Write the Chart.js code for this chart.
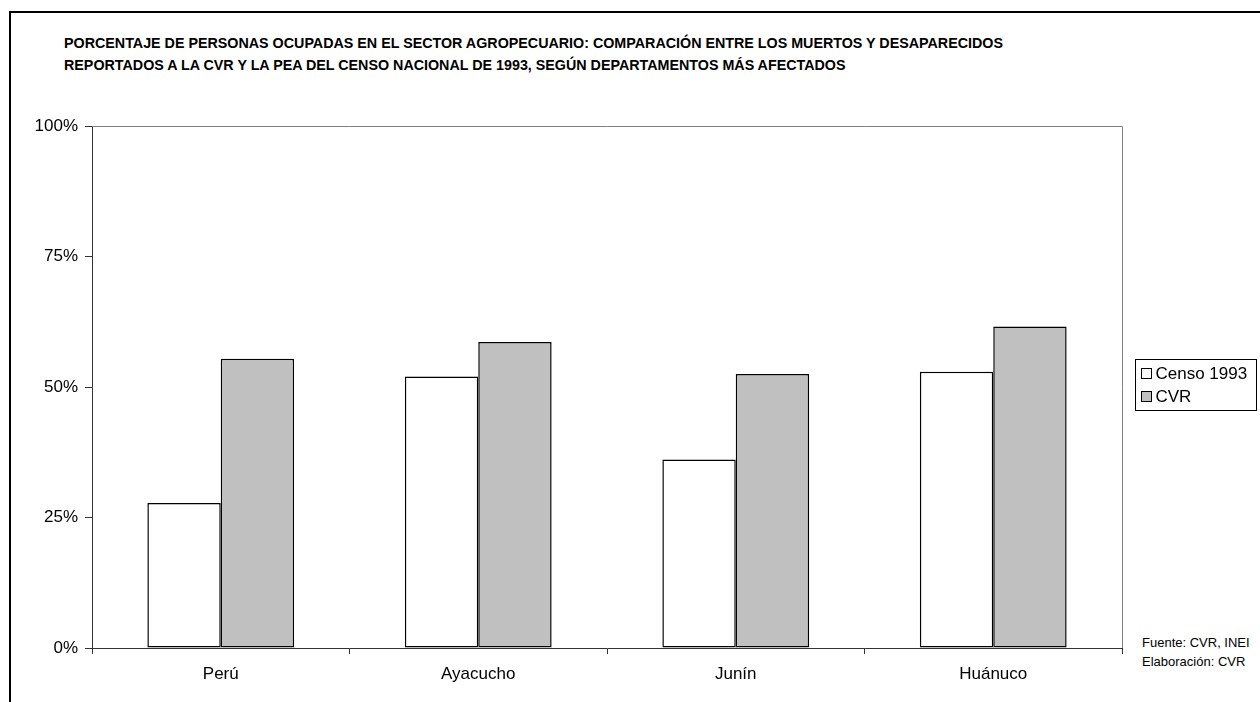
<!DOCTYPE html>
<html>
<head>
<meta charset="utf-8">
<script src="https://cdn.jsdelivr.net/npm/chart.js@4"></script>
<style>
  html, body { margin: 0; padding: 0; background: #fff; overflow: hidden; }
  body { width: 1260px; height: 702px; position: relative; }
  #frame { position: absolute; left: 9px; top: 11px; width: 1400px; height: 800px;
           border-left: 2px solid #000; border-top: 2px solid #000; }
  #title { position: absolute; left: 64px; top: 32px; font-family: "Liberation Sans", Arial, sans-serif;
           font-weight: bold; font-size: 15px; line-height: 22px; color: #000; white-space: nowrap; }
  #title span { display: inline-block; transform-origin: 0 50%; }
  #source { position: absolute; left: 1142px; top: 633px; font-family: "Liberation Sans", Arial, sans-serif;
            font-size: 13px; line-height: 19px; color: #000; white-space: nowrap; }
  canvas { position: absolute; left: 0; top: 0; }
</style>
</head>
<body>
<div id="frame"></div>
<div id="title"><span>PORCENTAJE DE PERSONAS OCUPADAS EN EL SECTOR AGROPECUARIO: COMPARACIÓN ENTRE LOS MUERTOS Y DESAPARECIDOS</span><br><span>REPORTADOS A LA CVR Y LA PEA DEL CENSO NACIONAL DE 1993, SEGÚN DEPARTAMENTOS MÁS AFECTADOS</span></div>
<div id="source">Fuente: CVR, INEI<br>Elaboración: CVR</div>
<canvas id="chart" width="1260" height="702"></canvas>
<script>
// Datos del gráfico
const departamentos = ['Perú', 'Ayacucho', 'Junín', 'Huánuco'];
const censo1993 = [27.8, 52.0, 36.1, 52.9];
const cvr = [55.4, 58.6, 52.5, 61.6];
const yTicks = [0, 25, 50, 75, 100];
const seriesNames = ['Censo 1993', 'CVR'];
const seriesColors = ['#ffffff', '#c0c0c0'];

const FONT = '"Liberation Sans", Arial, sans-serif';

// Título en letra estrecha (como Arial Narrow)
const spans = document.querySelectorAll('#title span');
const k = 939 / spans[0].getBoundingClientRect().width;
spans.forEach(s => { s.style.transform = `scaleX(${k})`; });

// Marco gris superior/derecho del área de trazado y leyenda
const framePlugin = {
  id: 'framePlugin',
  afterDraw(chart) {
    const { ctx, chartArea: a } = chart;
    ctx.save();
    ctx.strokeStyle = '#808080';
    ctx.lineWidth = 1;
    ctx.beginPath();
    ctx.moveTo(a.left, a.top + 0.5);
    ctx.lineTo(a.right + 0.5, a.top + 0.5);
    ctx.lineTo(a.right + 0.5, a.bottom);
    ctx.stroke();

    // Leyenda
    const bx = 1135.5, by = 359.5, bw = 121, bh = 51;
    ctx.fillStyle = '#fff';
    ctx.fillRect(bx, by, bw, bh);
    ctx.strokeStyle = '#000';
    ctx.strokeRect(bx, by, bw, bh);
    ctx.font = '17px ' + FONT;
    ctx.textBaseline = 'middle';
    chart.data.datasets.forEach((ds, i) => {
      const cy = by + 14 + i * 23;
      ctx.fillStyle = ds.backgroundColor;
      ctx.fillRect(bx + 6, cy - 5, 10, 10);
      ctx.strokeStyle = '#000';
      ctx.strokeRect(bx + 6, cy - 5, 10, 10);
      ctx.fillStyle = '#000';
      ctx.fillText(ds.label, bx + 20, cy + 1);
    });
    ctx.restore();
  }
};

new Chart(document.getElementById('chart').getContext('2d'), {
  type: 'bar',
  data: {
    labels: departamentos,
    datasets: [
      { label: seriesNames[0], data: censo1993, backgroundColor: seriesColors[0] },
      { label: seriesNames[1], data: cvr, backgroundColor: seriesColors[1] }
    ].map(ds => Object.assign(ds, {
      borderColor: '#000', borderWidth: 1.5, borderSkipped: false,
      categoryPercentage: 0.57, barPercentage: 1.0
    }))
  },
  options: {
    responsive: false,
    animation: false,
    layout: { padding: { left: 0, top: 126, right: 138, bottom: 0 } },
    plugins: { legend: { display: false }, tooltip: { enabled: false }, title: { display: false } },
    scales: {
      x: {
        grid: { offset: true, drawOnChartArea: false, tickLength: 6, color: '#333' },
        border: { color: '#333', width: 1 },
        ticks: { color: '#000', font: { family: FONT, size: 17 }, padding: 10, maxRotation: 0 },
        afterFit(s) { s.height = 54; }
      },
      y: {
        min: 0, max: 100,
        afterBuildTicks(s) { s.ticks = yTicks.map(v => ({ value: v })); },
        grid: { drawOnChartArea: false, tickLength: 7, color: '#333' },
        border: { color: '#333', width: 1 },
        ticks: { color: '#000', font: { family: FONT, size: 17 }, padding: 7, callback: v => v + '%' },
        afterFit(s) { s.width = 92; }
      }
    }
  },
  plugins: [framePlugin]
});
</script>
</body>
</html>
